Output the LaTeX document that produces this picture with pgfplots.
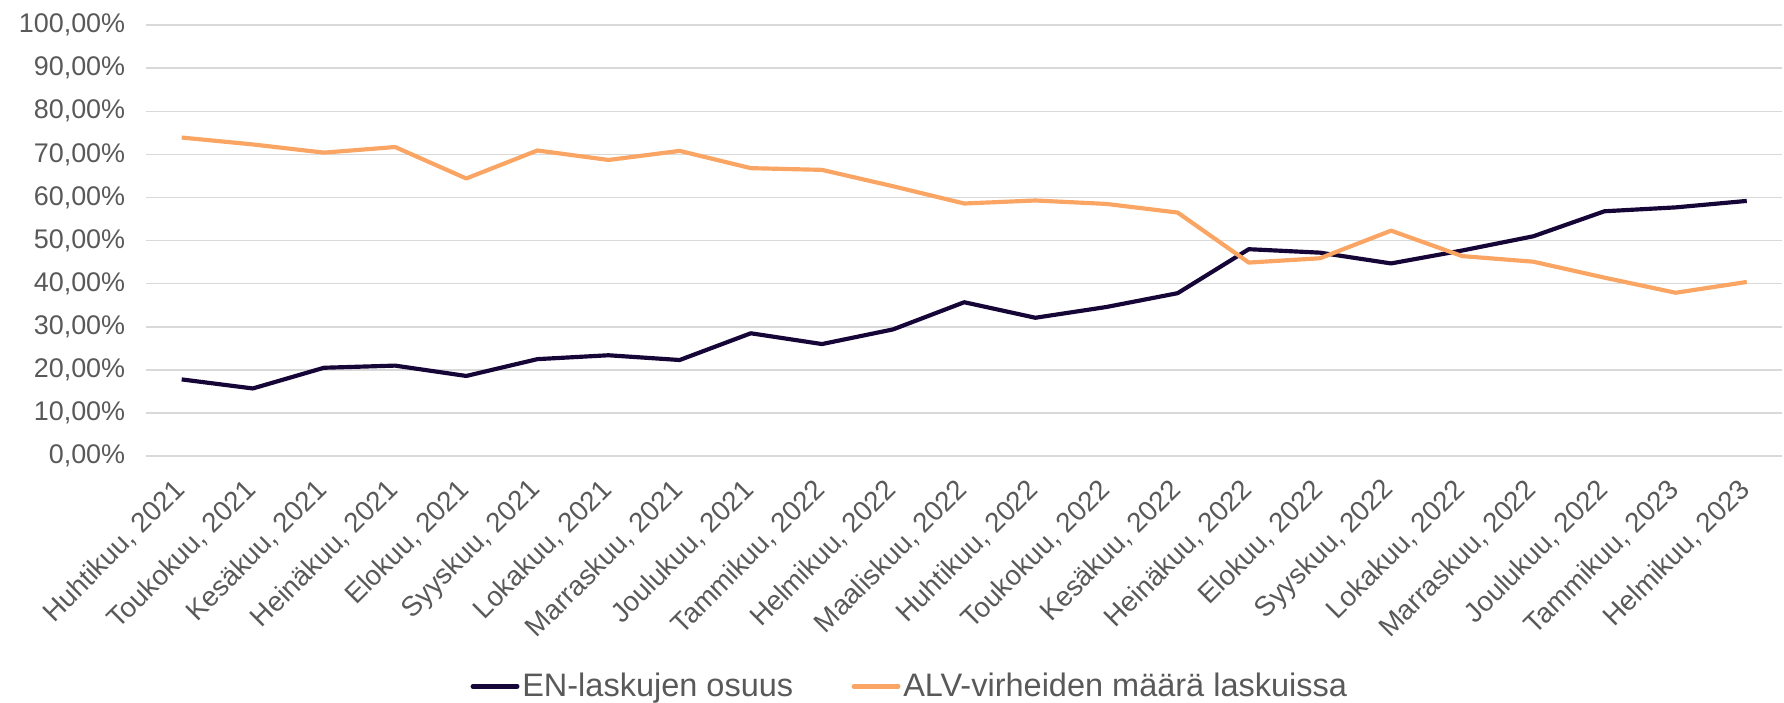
\documentclass[border=0pt]{standalone}
\usepackage{fontspec}
\setmainfont{Liberation Sans}
\usepackage{pgfplots}
\pgfplotsset{compat=1.18}
\definecolor{txtgray}{RGB}{89,89,89}
\definecolor{gridgray}{RGB}{217,217,217}
\definecolor{enline}{RGB}{22,6,56}
\definecolor{alvline}{RGB}{250,165,100}
\begin{document}
\begin{tikzpicture}
\path[use as bounding box] (-52.6pt,-88.6pt) rectangle (589.6pt,164.2pt);
\begin{axis}[
  scale only axis, width=589pt, height=155.2pt,
  xmin=-0.5, xmax=22.5, ymin=0, ymax=100,
  axis line style={draw=none},
  tick style={draw=none},
  ytick={0,10,...,100},
  yticklabels={{0,00\%},{10,00\%},{20,00\%},{30,00\%},{40,00\%},{50,00\%},{60,00\%},{70,00\%},{80,00\%},{90,00\%},{100,00\%}},
  ymajorgrids, grid style={gridgray, line width=0.5pt},
  xtick={0,...,22},
  xticklabels={{Huhtikuu, 2021},{Toukokuu, 2021},{Kesäkuu, 2021},{Heinäkuu, 2021},{Elokuu, 2021},{Syyskuu, 2021},{Lokakuu, 2021},{Marraskuu, 2021},{Joulukuu, 2021},{Tammikuu, 2022},{Helmikuu, 2022},{Maaliskuu, 2022},{Huhtikuu, 2022},{Toukokuu, 2022},{Kesäkuu, 2022},{Heinäkuu, 2022},{Elokuu, 2022},{Syyskuu, 2022},{Lokakuu, 2022},{Marraskuu, 2022},{Joulukuu, 2022},{Tammikuu, 2023},{Helmikuu, 2023}},
  xticklabel style={font=\fontsize{10}{12}\selectfont, text=txtgray, xshift=2pt, yshift=-8pt, rotate=45, anchor=east},
  yticklabel style={font=\fontsize{9.7}{12}\selectfont, text=txtgray, xshift=-4pt},
  legend style={at={(0.467,-0.534)}, anchor=center, draw=none, fill=none,
    font=\fontsize{11.7}{14}\selectfont, text=txtgray,
    nodes={inner xsep=1pt},
    /tikz/every even column/.append style={column sep=20pt}},
  legend columns=2,
  legend image code/.code={\draw[#1, line width=1.6pt, line cap=round] (0pt,0pt) -- (16pt,0pt);},
]
\addplot[enline, line width=1.5pt, line join=round] coordinates {
(0,17.8) (1,15.7) (2,20.5) (3,21.0) (4,18.6) (5,22.5) (6,23.4) (7,22.3)
(8,28.5) (9,26.0) (10,29.4) (11,35.7) (12,32.1) (13,34.6) (14,37.8)
(15,48.0) (16,47.2) (17,44.7) (18,47.7) (19,51.0) (20,56.8) (21,57.7) (22,59.2)};
\addlegendentry{EN-laskujen osuus}
\addplot[alvline, line width=1.5pt, line join=round] coordinates {
(0,73.9) (1,72.3) (2,70.4) (3,71.7) (4,64.4) (5,70.9) (6,68.7) (7,70.8)
(8,66.8) (9,66.4) (10,62.6) (11,58.6) (12,59.3) (13,58.5) (14,56.5)
(15,44.9) (16,45.9) (17,52.3) (18,46.4) (19,45.1) (20,41.4) (21,37.9) (22,40.4)};
\addlegendentry{ALV-virheiden määrä laskuissa}
\end{axis}
\end{tikzpicture}
\end{document}
